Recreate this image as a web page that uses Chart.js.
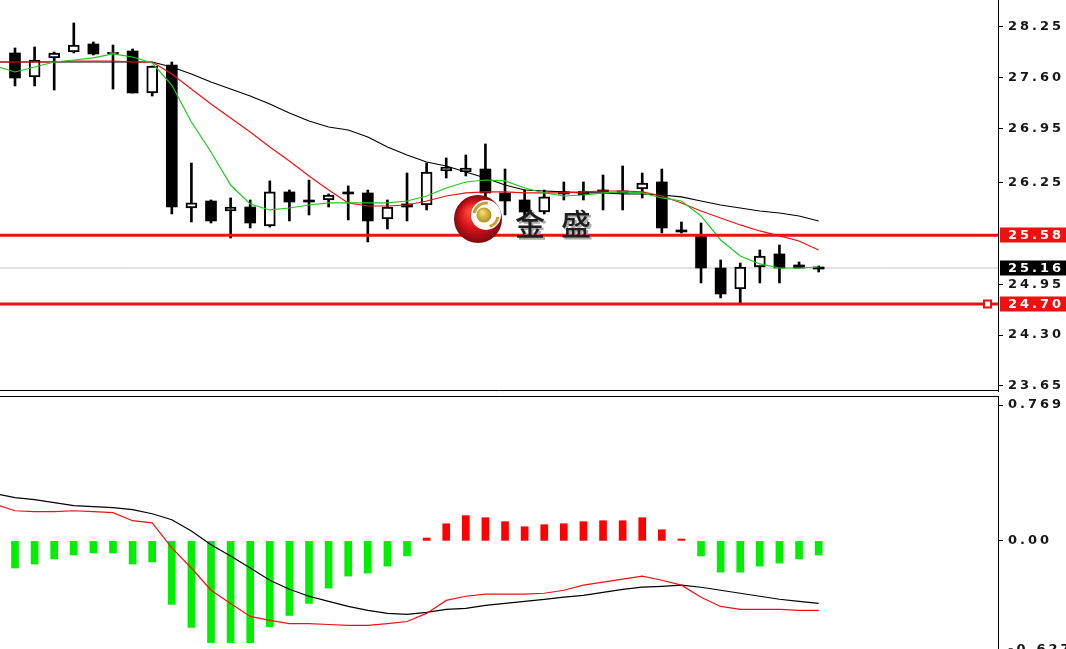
<!DOCTYPE html>
<html><head><meta charset="utf-8">
<script src="https://cdn.jsdelivr.net/npm/chart.js@4.4.0/dist/chart.umd.min.js"></script>
<style>
html,body{margin:0;padding:0;background:#fff;overflow:hidden;width:1066px;height:649px;}
#wrap{position:relative;width:1066px;height:649px;overflow:hidden;background:#fff;}
#c1{position:absolute;left:0;top:0;}
#c2{position:absolute;left:0;top:392px;}
</style></head><body>
<div id="wrap">
<canvas id="c1" width="1066" height="392"></canvas>
<canvas id="c2" width="1066" height="270"></canvas>
</div>
<script>
// ---- data ----
const candleIdx = [1,2,3,4,5,6,7,8,9,10,11,12,13,14,15,16,17,18,19,20,21,22,23,24,25,26,27,28,29,30,31,32,33,34,35,36,37,38,39,40,41,42];
const opens  = [27.917,27.609,27.853,27.929,28.032,27.904,27.942,27.404,27.763,25.929,26.019,25.891,25.942,25.699,26.135,26.019,26.032,26.122,26.122,25.788,25.981,25.968,26.404,26.391,26.429,26.122,26.032,25.878,26.122,26.096,26.147,26.135,26.173,26.263,25.635,25.583,25.160,24.891,25.173,25.340,25.199,25.160];
const highs  = [27.981,27.994,27.929,28.301,28.058,28.019,27.968,27.750,27.801,26.506,26.032,26.058,26.032,26.276,26.160,26.288,26.109,26.212,26.160,26.032,26.378,26.506,26.571,26.609,26.750,26.429,26.160,26.160,26.263,26.263,26.353,26.468,26.378,26.429,25.750,25.737,25.263,25.224,25.391,25.455,25.237,25.186];
const lows   = [27.494,27.494,27.442,27.917,27.891,27.455,27.404,27.365,25.853,25.750,25.737,25.545,25.673,25.686,25.763,25.840,25.942,25.776,25.494,25.660,25.763,25.904,26.314,26.340,26.071,25.840,25.750,25.853,26.032,26.032,25.904,25.904,26.058,25.609,25.609,24.968,24.776,24.712,24.968,24.968,25.160,25.109];
const closes = [27.596,27.827,27.917,28.019,27.904,27.929,27.404,27.750,25.942,25.994,25.763,25.942,25.737,26.135,26.006,26.006,26.096,26.109,25.763,25.942,25.942,26.391,26.455,26.442,26.122,26.019,25.878,26.071,26.109,26.147,26.135,26.122,26.250,25.673,25.622,25.160,24.827,25.173,25.314,25.160,25.160,25.147];

const maIdx  = [0,1,2,3,4,5,6,7,8,9,10,11,12,13,14,15,16,17,18,19,20,21,22,23,24,25,26,27,28,29,30,31,32,33,34,35,36,37,38,39,40,41,42];
const maFast = [27.750,27.673,27.737,27.801,27.827,27.853,27.904,27.865,27.788,27.506,27.032,26.647,26.224,25.981,25.904,25.929,25.968,25.994,25.994,25.994,25.994,26.019,26.083,26.186,26.263,26.288,26.276,26.186,26.122,26.083,26.096,26.122,26.135,26.122,26.058,26.019,25.827,25.519,25.314,25.212,25.160,25.160,25.173];
const maMid  = [27.801,27.801,27.801,27.801,27.814,27.814,27.814,27.801,27.801,27.647,27.455,27.263,27.083,26.904,26.712,26.532,26.340,26.160,25.994,25.955,25.955,25.968,26.019,26.083,26.122,26.135,26.135,26.122,26.122,26.122,26.135,26.147,26.147,26.135,26.083,25.994,25.891,25.801,25.712,25.635,25.571,25.506,25.391];
const maSlow = [27.801,27.801,27.801,27.801,27.801,27.801,27.801,27.801,27.801,27.737,27.647,27.545,27.455,27.365,27.263,27.147,27.045,26.968,26.929,26.840,26.712,26.609,26.519,26.468,26.391,26.314,26.224,26.160,26.147,26.135,26.122,26.122,26.109,26.109,26.096,26.071,26.019,25.968,25.929,25.891,25.865,25.827,25.763];

const levelPrices = [25.58, 24.70];
const levelText   = ['25.58', '24.70'];
const bidPrice = 25.16;
const bidText  = '25.16';
const priceTicks    = [28.25, 27.60, 26.95, 26.25, 24.95, 24.30, 23.65];
const priceTickText = ['28.25','27.60','26.95','26.25','24.95','24.30','23.65'];

const macdHist = [-0.144,-0.123,-0.096,-0.075,-0.064,-0.064,-0.123,-0.112,-0.337,-0.460,-0.540,-0.540,-0.540,-0.455,-0.396,-0.332,-0.251,-0.187,-0.171,-0.134,-0.080,0.015,0.091,0.134,0.123,0.102,0.075,0.086,0.091,0.102,0.107,0.107,0.123,0.059,0.010,-0.080,-0.166,-0.166,-0.134,-0.118,-0.096,-0.075];
const macdLine   = [0.251,0.230,0.219,0.203,0.187,0.182,0.176,0.166,0.144,0.112,0.053,-0.021,-0.080,-0.144,-0.209,-0.257,-0.294,-0.321,-0.348,-0.369,-0.385,-0.390,-0.380,-0.364,-0.358,-0.342,-0.332,-0.321,-0.310,-0.299,-0.289,-0.273,-0.257,-0.246,-0.241,-0.235,-0.246,-0.262,-0.278,-0.294,-0.310,-0.321,-0.332];
const signalLine = [0.193,0.160,0.155,0.155,0.160,0.155,0.150,0.107,0.096,-0.037,-0.144,-0.262,-0.332,-0.401,-0.422,-0.439,-0.439,-0.444,-0.449,-0.449,-0.439,-0.428,-0.385,-0.316,-0.294,-0.283,-0.283,-0.283,-0.278,-0.262,-0.235,-0.219,-0.203,-0.187,-0.209,-0.235,-0.299,-0.348,-0.364,-0.364,-0.364,-0.369,-0.369];
const macdMax = 0.769, macdMin = -0.627;
const macdTickVals = [0.721, 0, -0.579];
const macdTickText = ['0.769', '0.00', '-0.627'];

// ---- config ----
const X_MIN = 0.235, X_MAX = 51.15;
const P_MAX = 28.596, P_MIN = 23.583;
const AXIS_W = 68;
const FONT = {family: '"DejaVu Sans", Verdana, sans-serif', size: 13, weight: 'bold'};
const TXT = '#161616';
const GREEN = '#1ec81e', RED = '#f01010';

const spacing = {
  id: 'spacing',
  beforeDraw(chart) { chart.ctx.letterSpacing = '3px'; }
};

function yAxis(ticks, texts, min, max) {
  return {
    type: 'linear', position: 'right', min, max,
    afterFit(s) { s.width = AXIS_W; s.paddingTop = 0; s.paddingBottom = 0; },
    afterBuildTicks(s) { s.ticks = ticks.map(v => ({value: v})); },
    grid: {drawOnChartArea: false, drawTicks: true, tickLength: 5, color: '#000', tickWidth: 1},
    border: {display: true, color: '#000', width: 1},
    ticks: {padding: 5, color: TXT, font: FONT, autoSkip: false,
      callback: (v, i) => texts[i]}
  };
}

const xAxis = {type: 'linear', min: X_MIN, max: X_MAX, display: false, offset: false};

const priceFrame = {
  id: 'priceFrame',
  afterDatasetsDraw(chart) {
    const {ctx, chartArea: a, scales: {y}} = chart;
    // watermark logo
    ctx.save();
    ctx.letterSpacing = '0px';
    const cx = 478, cy = 219, r = 24;
    const g = ctx.createRadialGradient(cx - 8, cy - 8, 2, cx, cy, r);
    g.addColorStop(0, '#ff4a3a'); g.addColorStop(0.55, '#d41218'); g.addColorStop(1, '#7e0a0e');
    ctx.fillStyle = g; ctx.beginPath(); ctx.arc(cx, cy, r, 0, Math.PI * 2); ctx.fill();
    ctx.fillStyle = '#fff'; ctx.beginPath(); ctx.arc(cx + 8, cy - 4, 15, 0, Math.PI * 2); ctx.fill();
    ctx.strokeStyle = '#c8a032'; ctx.lineWidth = 3;
    ctx.beginPath(); ctx.arc(cx + 8, cy - 4, 12, -Math.PI * 0.95, -Math.PI * 0.45); ctx.stroke();
    ctx.beginPath(); ctx.arc(cx + 8, cy - 4, 12, Math.PI * 0.05, Math.PI * 0.4); ctx.stroke();
    const g2 = ctx.createRadialGradient(cx + 4, cy - 7, 1, cx + 6, cy - 4, 8);
    g2.addColorStop(0, '#f2dc6a'); g2.addColorStop(1, '#b08a1c');
    ctx.fillStyle = g2; ctx.beginPath(); ctx.arc(cx + 6, cy - 4, 7.5, 0, Math.PI * 2); ctx.fill();
    ctx.font = '500 30px "Noto Sans CJK SC", sans-serif';
    ctx.textAlign = 'center'; ctx.textBaseline = 'alphabetic';
    ctx.fillStyle = 'rgba(150,150,150,0.8)';
    ctx.fillText('金', 532, 237); ctx.fillText('盛', 578, 237);
    ctx.fillStyle = '#1e1e1e';
    ctx.fillText('金', 530, 235); ctx.fillText('盛', 576, 235);
    ctx.restore();
  },
  afterDraw(chart) {
    const {ctx, chartArea: a, scales: {y}} = chart;
    ctx.save();
    ctx.letterSpacing = '3px';
    // panel bottom border
    ctx.strokeStyle = '#000'; ctx.lineWidth = 1;
    ctx.beginPath(); ctx.moveTo(0, a.bottom - 0.5); ctx.lineTo(a.right + 0.5, a.bottom - 0.5); ctx.stroke();
    ctx.font = 'bold 13px "DejaVu Sans", Verdana, sans-serif';
    ctx.textBaseline = 'middle'; ctx.textAlign = 'left';
    const box = (val, text, bg) => {
      const py = Math.round(y.getPixelForValue(val));
      ctx.fillStyle = bg;
      ctx.fillRect(a.right + 2, py - 7.5, chart.width - a.right - 2, 15);
      ctx.fillStyle = '#fff';
      ctx.fillText(text, y.left + 10, py + 0.5);
    };
    levelPrices.forEach((p, i) => box(p, levelText[i], RED));
    box(bidPrice, bidText, '#000');
    // small marker on the lower level
    const my = Math.round(y.getPixelForValue(levelPrices[1]));
    ctx.fillStyle = '#fff'; ctx.strokeStyle = RED; ctx.lineWidth = 2;
    ctx.fillRect(a.right - 14, my - 3.5, 7, 7);
    ctx.strokeRect(a.right - 14, my - 3.5, 7, 7);
    ctx.restore();
  }
};

const levelSets = levelPrices.map(p => ({
  type: 'line', data: [{x: X_MIN, y: p}, {x: X_MAX + 1, y: p}],
  borderColor: RED, borderWidth: 3, pointRadius: 0, order: 1
}));

new Chart(document.getElementById('c1'), {
  data: {
    datasets: [
      {type: 'line', data: [{x: X_MIN, y: bidPrice}, {x: X_MAX, y: bidPrice}], borderColor: '#c4c4c4', borderWidth: 1, pointRadius: 0, order: 9},
      {type: 'bar', data: candleIdx.map((x, i) => ({x, y: [lows[i], highs[i]]})), backgroundColor: '#000', barThickness: 2, grouped: false, order: 8},
      {type: 'bar', data: candleIdx.map((x, i) => ({x, y: [opens[i], closes[i]]})),
        backgroundColor: candleIdx.map((x, i) => closes[i] >= opens[i] ? '#fff' : '#000'),
        borderColor: '#000',
        borderWidth: candleIdx.map((x, i) => closes[i] >= opens[i] ? 2 : 0),
        borderSkipped: false, barThickness: 11, grouped: false, minBarLength: 2, order: 7},
      {type: 'line', data: maIdx.map((x, i) => ({x, y: maSlow[i]})), borderColor: '#000', borderWidth: 1.2, pointRadius: 0, order: 4},
      {type: 'line', data: maIdx.map((x, i) => ({x, y: maMid[i]})), borderColor: RED, borderWidth: 1.2, pointRadius: 0, order: 3},
      {type: 'line', data: maIdx.map((x, i) => ({x, y: maFast[i]})), borderColor: GREEN, borderWidth: 1.2, pointRadius: 0, order: 2},
      ...levelSets
    ]
  },
  options: {
    responsive: false, animation: false, devicePixelRatio: 1,
    layout: {padding: {top: 0, bottom: 1, left: 0, right: 0}},
    plugins: {legend: {display: false}, tooltip: {enabled: false}},
    scales: {x: xAxis, y: yAxis(priceTicks, priceTickText, P_MIN, P_MAX)}
  },
  plugins: [spacing, priceFrame]
});

const macdFrame = {
  id: 'macdFrame',
  afterDraw(chart) {
    const {ctx, chartArea: a} = chart;
    ctx.save();
    ctx.strokeStyle = '#000'; ctx.lineWidth = 1;
    ctx.beginPath(); ctx.moveTo(0, a.top + 0.5); ctx.lineTo(a.right + 0.5, a.top + 0.5); ctx.stroke();
    ctx.restore();
  }
};

new Chart(document.getElementById('c2'), {
  data: {
    datasets: [
      {type: 'bar', data: candleIdx.map((x, i) => ({x, y: macdHist[i]})),
        backgroundColor: macdHist.map(v => v >= 0 ? '#ff0000' : '#00ee00'),
        barThickness: 7, grouped: false, order: 5},
      {type: 'line', data: maIdx.map((x, i) => ({x, y: macdLine[i]})), borderColor: '#000', borderWidth: 1.2, pointRadius: 0, order: 2},
      {type: 'line', data: maIdx.map((x, i) => ({x, y: signalLine[i]})), borderColor: RED, borderWidth: 1.2, pointRadius: 0, order: 1}
    ]
  },
  options: {
    responsive: false, animation: false, devicePixelRatio: 1,
    layout: {padding: {top: 4, bottom: 3, left: 0, right: 0}},
    plugins: {legend: {display: false}, tooltip: {enabled: false}},
    scales: {x: xAxis, y: yAxis(macdTickVals, macdTickText, macdMin, macdMax)}
  },
  plugins: [spacing, macdFrame]
});
</script>
</body></html>
